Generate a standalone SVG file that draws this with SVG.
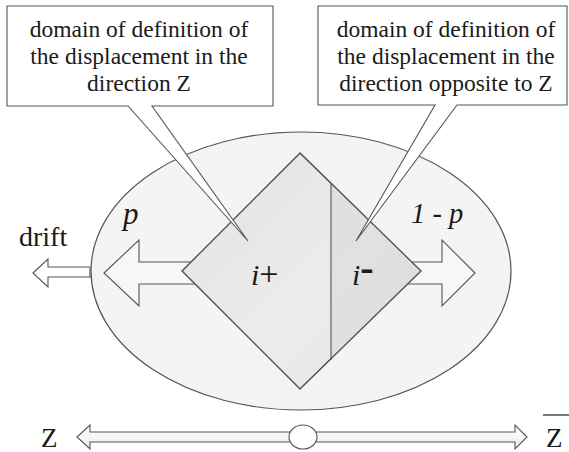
<svg xmlns="http://www.w3.org/2000/svg" width="569" height="452" viewBox="0 0 569 452">
<style>
.ln{stroke:#555;stroke-width:1.1;stroke-linejoin:miter}
.tx{font-family:"Liberation Serif","Times New Roman","DejaVu Serif",serif;fill:#1a1a1a}
.cl{font-size:23.5px;text-anchor:middle}
.it{font-style:italic}
</style>
<defs>
<linearGradient id="dg" x1="0" y1="0" x2="1" y2="1">
<stop offset="0" stop-color="#e2e2e2"/>
<stop offset="0.6" stop-color="#ececec"/>
<stop offset="1" stop-color="#e2e2e2"/>
</linearGradient>
<linearGradient id="ag" x1="0" y1="0" x2="0" y2="1">
<stop offset="0" stop-color="#ffffff"/>
<stop offset="1" stop-color="#ececec"/>
</linearGradient>
</defs>
<rect width="569" height="452" fill="#ffffff"/>
<g id="domain">
<ellipse cx="301" cy="271" rx="210" ry="139" fill="#f4f4f4" stroke="#555" stroke-width="1.2"/>
</g>
<g id="connectors">
<polygon id="arrow-p" class="ln" fill="#f7f7f7" points="104,273 139,240 139,262 205,262 205,284 139,284 139,306"/>
<polygon id="arrow-1-p" class="ln" fill="#f7f7f7" points="475,273 442,240 442,262 400,262 400,284 442,284 442,306"/>
<polygon id="arrow-drift" class="ln" fill="#ffffff" points="33,273 48,259 48,267 90,267 90,277 48,277 48,287"/>
</g>
<g id="diamond">
<polygon points="300,153 421,271 300,389 182,271" fill="url(#dg)" class="ln"/>
<polygon points="331,183 421,271 331,360" fill="#d6d6d6" opacity="0.5"/>
<polygon points="300,153 421,271 300,389 182,271" fill="none" class="ln"/>
<line x1="331" y1="183" x2="331" y2="360" class="ln"/>
<text class="tx" x="251" y="285" font-size="30"><tspan class="it">i</tspan><tspan font-size="34">+</tspan></text>
<text class="tx" x="352" y="285" font-size="30"><tspan class="it">i</tspan><tspan font-weight="bold" font-size="40" dy="-4">-</tspan></text>
</g>
<g id="labels">
<text class="tx it" x="123" y="224" font-size="31">p</text>
<text class="tx it" x="411" y="223" font-size="28.5">1 - p</text>
<text class="tx" x="19" y="246" font-size="28">drift</text>
</g>
<g id="callout-left">
<path d="M7,6 H273 V106 H152 L248,241 L128,106 H7 Z" fill="#ffffff" class="ln"/>
<text class="tx cl" x="139" y="37">domain of definition of</text>
<text class="tx cl" x="139" y="64">the displacement in the</text>
<text class="tx cl" x="139" y="91">direction Z</text>
</g>
<g id="callout-right">
<path d="M318,6 H567 V105 H457 L356,241 L435,105 H318 Z" fill="#ffffff" class="ln"/>
<text class="tx cl" x="446" y="37">domain of definition of</text>
<text class="tx cl" x="446" y="64">the displacement in the</text>
<text class="tx cl" x="446" y="91">direction opposite to Z</text>
</g>
<g id="axis">
<polygon class="ln" fill="url(#ag)" points="77,437 90,425 90,432 515,432 515,425 527,437 515,449 515,442 90,442 90,449"/>
<ellipse cx="303" cy="437" rx="14" ry="12" fill="#ffffff" class="ln"/>
<text class="tx" x="41" y="447" font-size="27">Z</text>
<text class="tx" x="546" y="447" font-size="27">Z</text>
<line x1="543" y1="415" x2="569" y2="415" stroke="#222" stroke-width="1.2"/>
</g>
</svg>
